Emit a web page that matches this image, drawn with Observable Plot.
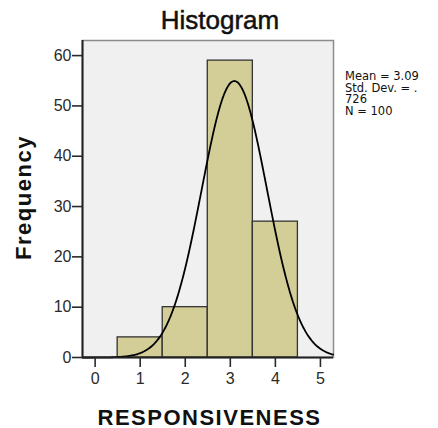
<!DOCTYPE html>
<html><head><meta charset="utf-8">
<script src="https://cdn.jsdelivr.net/npm/d3@7"></script>
<script src="https://cdn.jsdelivr.net/npm/@observablehq/plot@0.6"></script>
<style>body{margin:0;background:#fff}</style>
</head><body><div id="chart"></div>
<script>
// Data
const binStarts = [0.5, 1.5, 2.5, 3.5];
const binEnds = [1.5, 2.5, 3.5, 4.5];
const counts = [4, 10, 59, 27];
const xTicks = [0, 1, 2, 3, 4, 5];
const yTicks = [0, 10, 20, 30, 40, 50, 60];
const statsLines = ["Mean = 3.09", "Std. Dev. = .", "726", "N = 100"];
const stats = {mean: 3.09, sd: 0.726, n: 100};
const binWidth = 1;
const xDomain = [-0.28, 5.29];
const yDomain = [0, 63];

const bins = counts.map((c, i) => ({x1: binStarts[i], x2: binEnds[i], y: c}));

// Fitted normal curve defined by the reported mean, SD and N
const scaleK = stats.n * binWidth / (stats.sd * Math.sqrt(2 * Math.PI));
const curve = d3.range(xDomain[0], xDomain[1] + 0.001, 0.02).map(x => {
  const z = (x - stats.mean) / stats.sd;
  return {x, y: scaleK * Math.exp(-0.5 * z * z)};
});

const font = "Liberation Sans, Arial, Helvetica, sans-serif";

const chart = Plot.plot({
  width: 438,
  height: 428,
  marginLeft: 82,
  marginRight: 105,
  marginTop: 40,
  marginBottom: 71,
  style: {fontFamily: font, fontSize: "16px", color: "#2a2a2a", background: "#fff", overflow: "visible"},
  x: {domain: xDomain},
  y: {domain: yDomain},
  marks: [
    Plot.frame({fill: "#f0f0f0", stroke: "#8c8c8c", strokeWidth: 1.5}),
    Plot.rectY(bins, {x1: "x1", x2: "x2", y: "y", fill: "#d3ce97", stroke: "#333", strokeWidth: 1.3}),
    Plot.line(curve, {x: "x", y: "y", stroke: "#000", strokeWidth: 1.8, curve: "natural"}),
    Plot.ruleY([0], {stroke: "#222", strokeWidth: 2}),
    Plot.ruleX([xDomain[0]], {stroke: "#222", strokeWidth: 2}),
    Plot.axisY({ticks: yTicks, tickFormat: "d", tickSize: 10, tickPadding: 1, strokeWidth: 1.6, label: null, fontSize: 16}),
    Plot.axisX({ticks: xTicks, tickFormat: "d", tickSize: 10, tickPadding: 5, strokeWidth: 1.6, label: null, fontSize: 16}),
    Plot.text(["Histogram"], {frameAnchor: "top", dx: 12, dy: -12, lineAnchor: "bottom", textAnchor: "middle", fontSize: 26, fill: "#111", stroke: "#111", strokeWidth: 0.5, fontFamily: font}),
    Plot.text(["RESPONSIVENESS"], {frameAnchor: "bottom", dx: 1.5, dy: 67, lineAnchor: "bottom", textAnchor: "middle", fontSize: 22, fontWeight: "bold", fill: "#111", fontFamily: font}),
    Plot.text(["Frequency"], {frameAnchor: "left", dx: -52, dy: -1.5, rotate: -90, lineAnchor: "bottom", textAnchor: "middle", fontSize: 22, fontWeight: "bold", fill: "#111", fontFamily: font}),
    Plot.text([statsLines.join("\n")], {frameAnchor: "top-right", dx: 11.5, dy: 31.5, lineAnchor: "top", textAnchor: "start", fontSize: 11.5, lineHeight: 1.0, fill: "#111", fontFamily: "DejaVu Sans, sans-serif"})
  ]
});

d3.select(chart).selectAll("text").filter(function() {
  const t = this.textContent;
  return t === "RESPONSIVENESS" || t === "Frequency";
}).attr("letter-spacing", "1.5px");

document.getElementById("chart").appendChild(chart);
</script>
</body></html>
